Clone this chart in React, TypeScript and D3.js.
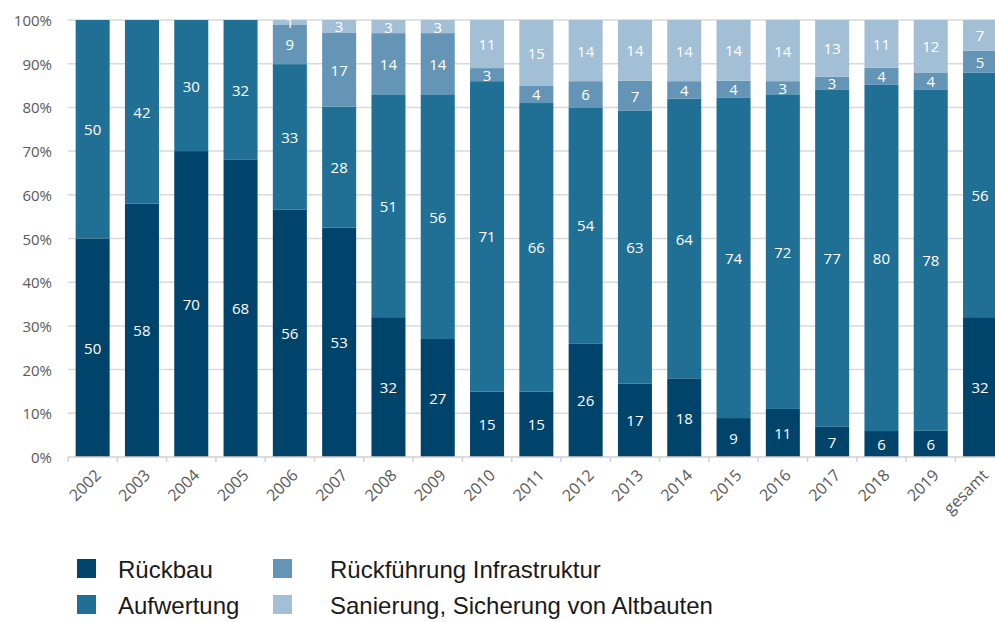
import React from "react";
import * as d3 from "d3";

const categories = ["2002","2003","2004","2005","2006","2007","2008","2009","2010","2011","2012","2013","2014","2015","2016","2017","2018","2019","gesamt"];
const rueckbau = [50,58,70,68,56,53,32,27,15,15,26,17,18,9,11,7,6,6,32];
const aufwertung = [50,42,30,32,33,28,51,56,71,66,54,63,64,74,72,77,80,78,56];
const rueckfuehrung = [0,0,0,0,9,17,14,14,3,4,6,7,4,4,3,3,4,4,5];
const sanierung = [0,0,0,0,1,3,3,3,11,15,14,14,14,14,14,13,11,12,7];
const seriesNames = ["Rückbau","Aufwertung","Rückführung Infrastruktur","Sanierung, Sicherung von Altbauten"];
const seriesColors = ["#01446b","#1f7094","#6495b6","#a3bfd6"];
const yTicks = [0,0.1,0.2,0.3,0.4,0.5,0.6,0.7,0.8,0.9,1];

const W = 995, H = 622;
const left = 68, top = 20, bottom = 457;

export default function App() {
  const rows = categories.map((c, i) => ({
    cat: c, s0: rueckbau[i], s1: aufwertung[i], s2: rueckfuehrung[i], s3: sanierung[i],
  }));
  const keys = ["s0","s1","s2","s3"];
  const stacked = d3.stack<any>().keys(keys).offset(d3.stackOffsetExpand)(rows);
  const x = d3.scaleBand().domain(categories).range([left, left + 19 * 49.3]).paddingInner(0.31).paddingOuter(0.155);
  const y = d3.scaleLinear().domain([0, 1]).range([bottom, top]);
  const fmt = d3.format(".0%");
  const step = x.step();
  const font = "'Open Sans', sans-serif";
  const gray = "#595959";

  return (
    <svg width={W} height={H} style={{ position: "absolute", left: 0, top: 0, background: "#fff" }}>
      {yTicks.map((t) => (
        <g key={t}>
          {t > 0 && <line x1={left} x2={W} y1={y(t)} y2={y(t)} stroke="#d9d9d9" strokeWidth={1.5} />}
          <text x={52} y={y(t)} textAnchor="end" dominantBaseline="central" fontFamily={font} fontSize={15} fill={gray}>{fmt(t)}</text>
        </g>
      ))}
      {stacked.map((layer, li) => (
        <g key={li}>
          {layer.map((d, i) => {
            const v = (rows[i] as any)[keys[li]];
            if (!v) return null;
            const y0 = y(d[0]), y1 = y(d[1]);
            return (
              <rect key={i} x={x(categories[i])} width={x.bandwidth()} y={y1} height={y0 - y1} fill={seriesColors[li]} />
            );
          })}
        </g>
      ))}
      {stacked.map((layer, li) => (
        <g key={"l" + li}>
          {layer.map((d, i) => {
            const v = (rows[i] as any)[keys[li]];
            if (!v) return null;
            const yc = (y(d[0]) + y(d[1])) / 2;
            const xc = (x(categories[i]) as number) + x.bandwidth() / 2;
            return (
              <text key={i} x={xc} y={yc} textAnchor="middle" dominantBaseline="central" fontFamily={font} fontSize={15} fill="#fff">{v}</text>
            );
          })}
        </g>
      ))}
      <line x1={left} x2={W} y1={bottom} y2={bottom} stroke="#d0d0d0" strokeWidth={1.5} />
      {categories.map((c, i) => {
        const bx = left + i * step;
        return <line key={"t" + c} x1={bx} x2={bx} y1={bottom} y2={bottom + 5} stroke="#d0d0d0" strokeWidth={1.5} />;
      })}
      {categories.map((c) => {
        const xc = (x(c) as number) + x.bandwidth() / 2 + 5;
        const yy = bottom + 15;
        return (
          <text key={"x" + c} x={xc} y={yy} textAnchor="end" dominantBaseline="central" fontFamily={font} fontSize={16} fill={gray} transform={`rotate(-45 ${xc} ${yy})`}>{c}</text>
        );
      })}
      {seriesNames.map((n, i) => {
        const col = Math.floor(i / 2);
        const row = i % 2;
        const sx = col === 0 ? 77 : 273;
        const tx = col === 0 ? 118 : 330;
        const sy = row === 0 ? 559 : 595;
        return (
          <g key={n}>
            <rect x={sx} y={sy} width={19} height={19} fill={seriesColors[i]} />
            <text x={tx} y={sy + 19} fontFamily="'Liberation Sans', Arial, sans-serif" fontSize={24} fill="#1a1a1a">{n}</text>
          </g>
        );
      })}
    </svg>
  );
}
